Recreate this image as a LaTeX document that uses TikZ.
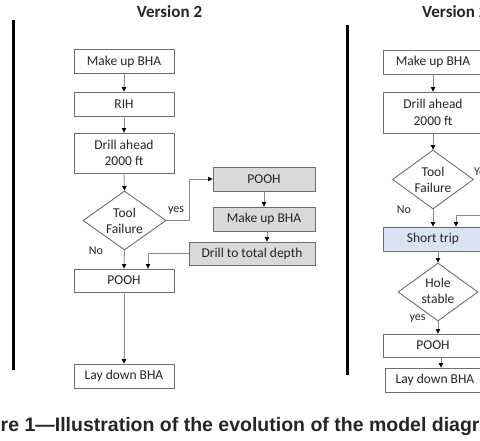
\documentclass[tikz,border=0pt]{standalone}
\usepackage{fontspec}
\setmainfont{Carlito}
\newfontfamily\capfont{Liberation Sans}
\usetikzlibrary{arrows.meta,shapes.geometric,calc}
\definecolor{boxline}{HTML}{6E6E6E}
\definecolor{conn}{HTML}{8A8A8A}
\definecolor{grayfill}{HTML}{D9D9D9}
\definecolor{bluefill}{HTML}{DAE3F3}
\definecolor{txt}{HTML}{262626}
\begin{document}
\begin{tikzpicture}[x=1pt,y=-1pt,
  box/.style={draw=boxline, line width=0.9pt, minimum width=100pt, minimum height=24pt,
    inner sep=0pt, align=center, font=\fontsize{13.5}{16.5}\selectfont, text=txt},
  gbox/.style={box, fill=grayfill},
  bbox/.style={box, fill=bluefill},
  dia/.style={diamond, draw=boxline, line width=0.9pt, inner sep=0pt,
    minimum width=83pt, minimum height=59pt},
  diatext/.style={align=center, inner sep=0pt, font=\fontsize{13.5}{16}\selectfont, text=txt},
  lbl/.style={font=\fontsize{12}{14}\selectfont, text=txt, inner sep=0pt},
  arr/.style={draw=conn, line width=0.8pt, -{Triangle[length=4.5pt,width=4.5pt,color=black]}},
  divrule/.style={draw=black, line width=3pt},
  ttl/.style={font=\bfseries\fontsize{17}{20}\selectfont, text=txt, inner sep=0pt},
  captxt/.style={font=\capfont\bfseries\fontsize{19.5}{22}\selectfont, text=txt, inner sep=0pt}]
\useasboundingbox (0,0) rectangle (480,441);
\clip (0,0) rectangle (480,441);
\fill[white] (0,0) rectangle (480,441);

% dividers
\draw[divrule] (13,20) -- (13,370);
\draw[divrule] (347,25) -- (347,375);

% titles
\node[ttl, anchor=base] (t1) at (169.5,18) {Version 2};
\node[ttl, anchor=base west] (t2) at (422,18) {Version 2};

% ---- left flowchart
\node[box] (mu1) at (124,61.5) {Make up BHA};
\node[box] (rih) at (124,104) {RIH};
\node[box, minimum height=40pt] (da1) at (124,153) {Drill ahead\\2000 ft};
\node[dia] (tf1) at (124.5,220.5) {};
\node[diatext] (tf1t) at (124.5,220.5) {Tool\\Failure};
\node[gbox, minimum width=102pt] (gp) at (264,179) {POOH};
\node[gbox, minimum width=102pt] (gm) at (264,219) {Make up BHA};
\node[gbox, minimum width=126pt, minimum height=23pt] (gd) at (252,253.5) {Drill to total depth};
\node[box, minimum height=23pt] (pooh1) at (124,280.5) {POOH};
\node[box] (ld1) at (124,376) {Lay down BHA};
\node[lbl] (yes1) at (176,211) {yes};
\node[lbl] (no1) at (96,251) {No};

\draw[arr] (mu1.south) -- (rih.north);
\draw[arr] (rih.south) -- (da1.north);
\draw[arr] (da1.south) -- (tf1.north);
\draw[arr] (tf1.east) -- ++(23,0) |- (gp.west);
\draw[arr] (gp.south) -- (gm.north);
\draw[arr] ([xshift=3pt]gm.south) -- ([xshift=3pt]gm.south |- gd.north);
\draw[arr] (gd.west) -| ([xshift=24pt]pooh1.north);
\draw[arr] (tf1.south) -- (pooh1.north);
\draw[arr] (pooh1.south) -- (ld1.north);

% ---- right flowchart
\node[box] (mu2) at (433,62) {Make up BHA};
\node[box, minimum height=41pt] (da2) at (433,112.5) {Drill ahead\\2000 ft};
\node[dia, minimum width=81pt] (tf2) at (433,179.5) {};
\node[diatext] (tf2t) at (433,179.5) {Tool\\Failure};
\node[bbox] (st) at (433,239) {Short trip};
\node[dia, minimum width=80pt, minimum height=58pt] (hs) at (438,292) {};
\node[diatext] (hst) at (438,291) {Hole\\stable};
\node[box, minimum height=23pt] (pooh2) at (433,345.5) {POOH};
\node[box] (ld2) at (435,380) {Lay down BHA};
\node[lbl, anchor=west] (yes2) at (474,172) {Yes};
\node[lbl] (no2) at (404,210) {No};
\node[lbl] (yes3) at (417.5,319) {yes};
\coordinate (inR) at (495,215);

\draw[arr] (mu2.south) -- (da2.north);
\draw[arr] (da2.south) -- (tf2.north);
\draw[arr] (tf2.south) -- (st.north);
\draw[arr] (inR) -| ([xshift=23pt]st.north);
\draw[arr] (hs.north |- st.south) -- (hs.north);
\draw[arr] (hs.south) -- (hs.south |- pooh2.north);
\draw[arr] ([xshift=6pt]ld2.north |- pooh2.south) -- ([xshift=6pt]ld2.north);

% caption
\node[captxt, anchor=base west] (caption) at (0.5,431) {re 1—Illustration of the evolution of the model diagr};
\end{tikzpicture}
\end{document}
